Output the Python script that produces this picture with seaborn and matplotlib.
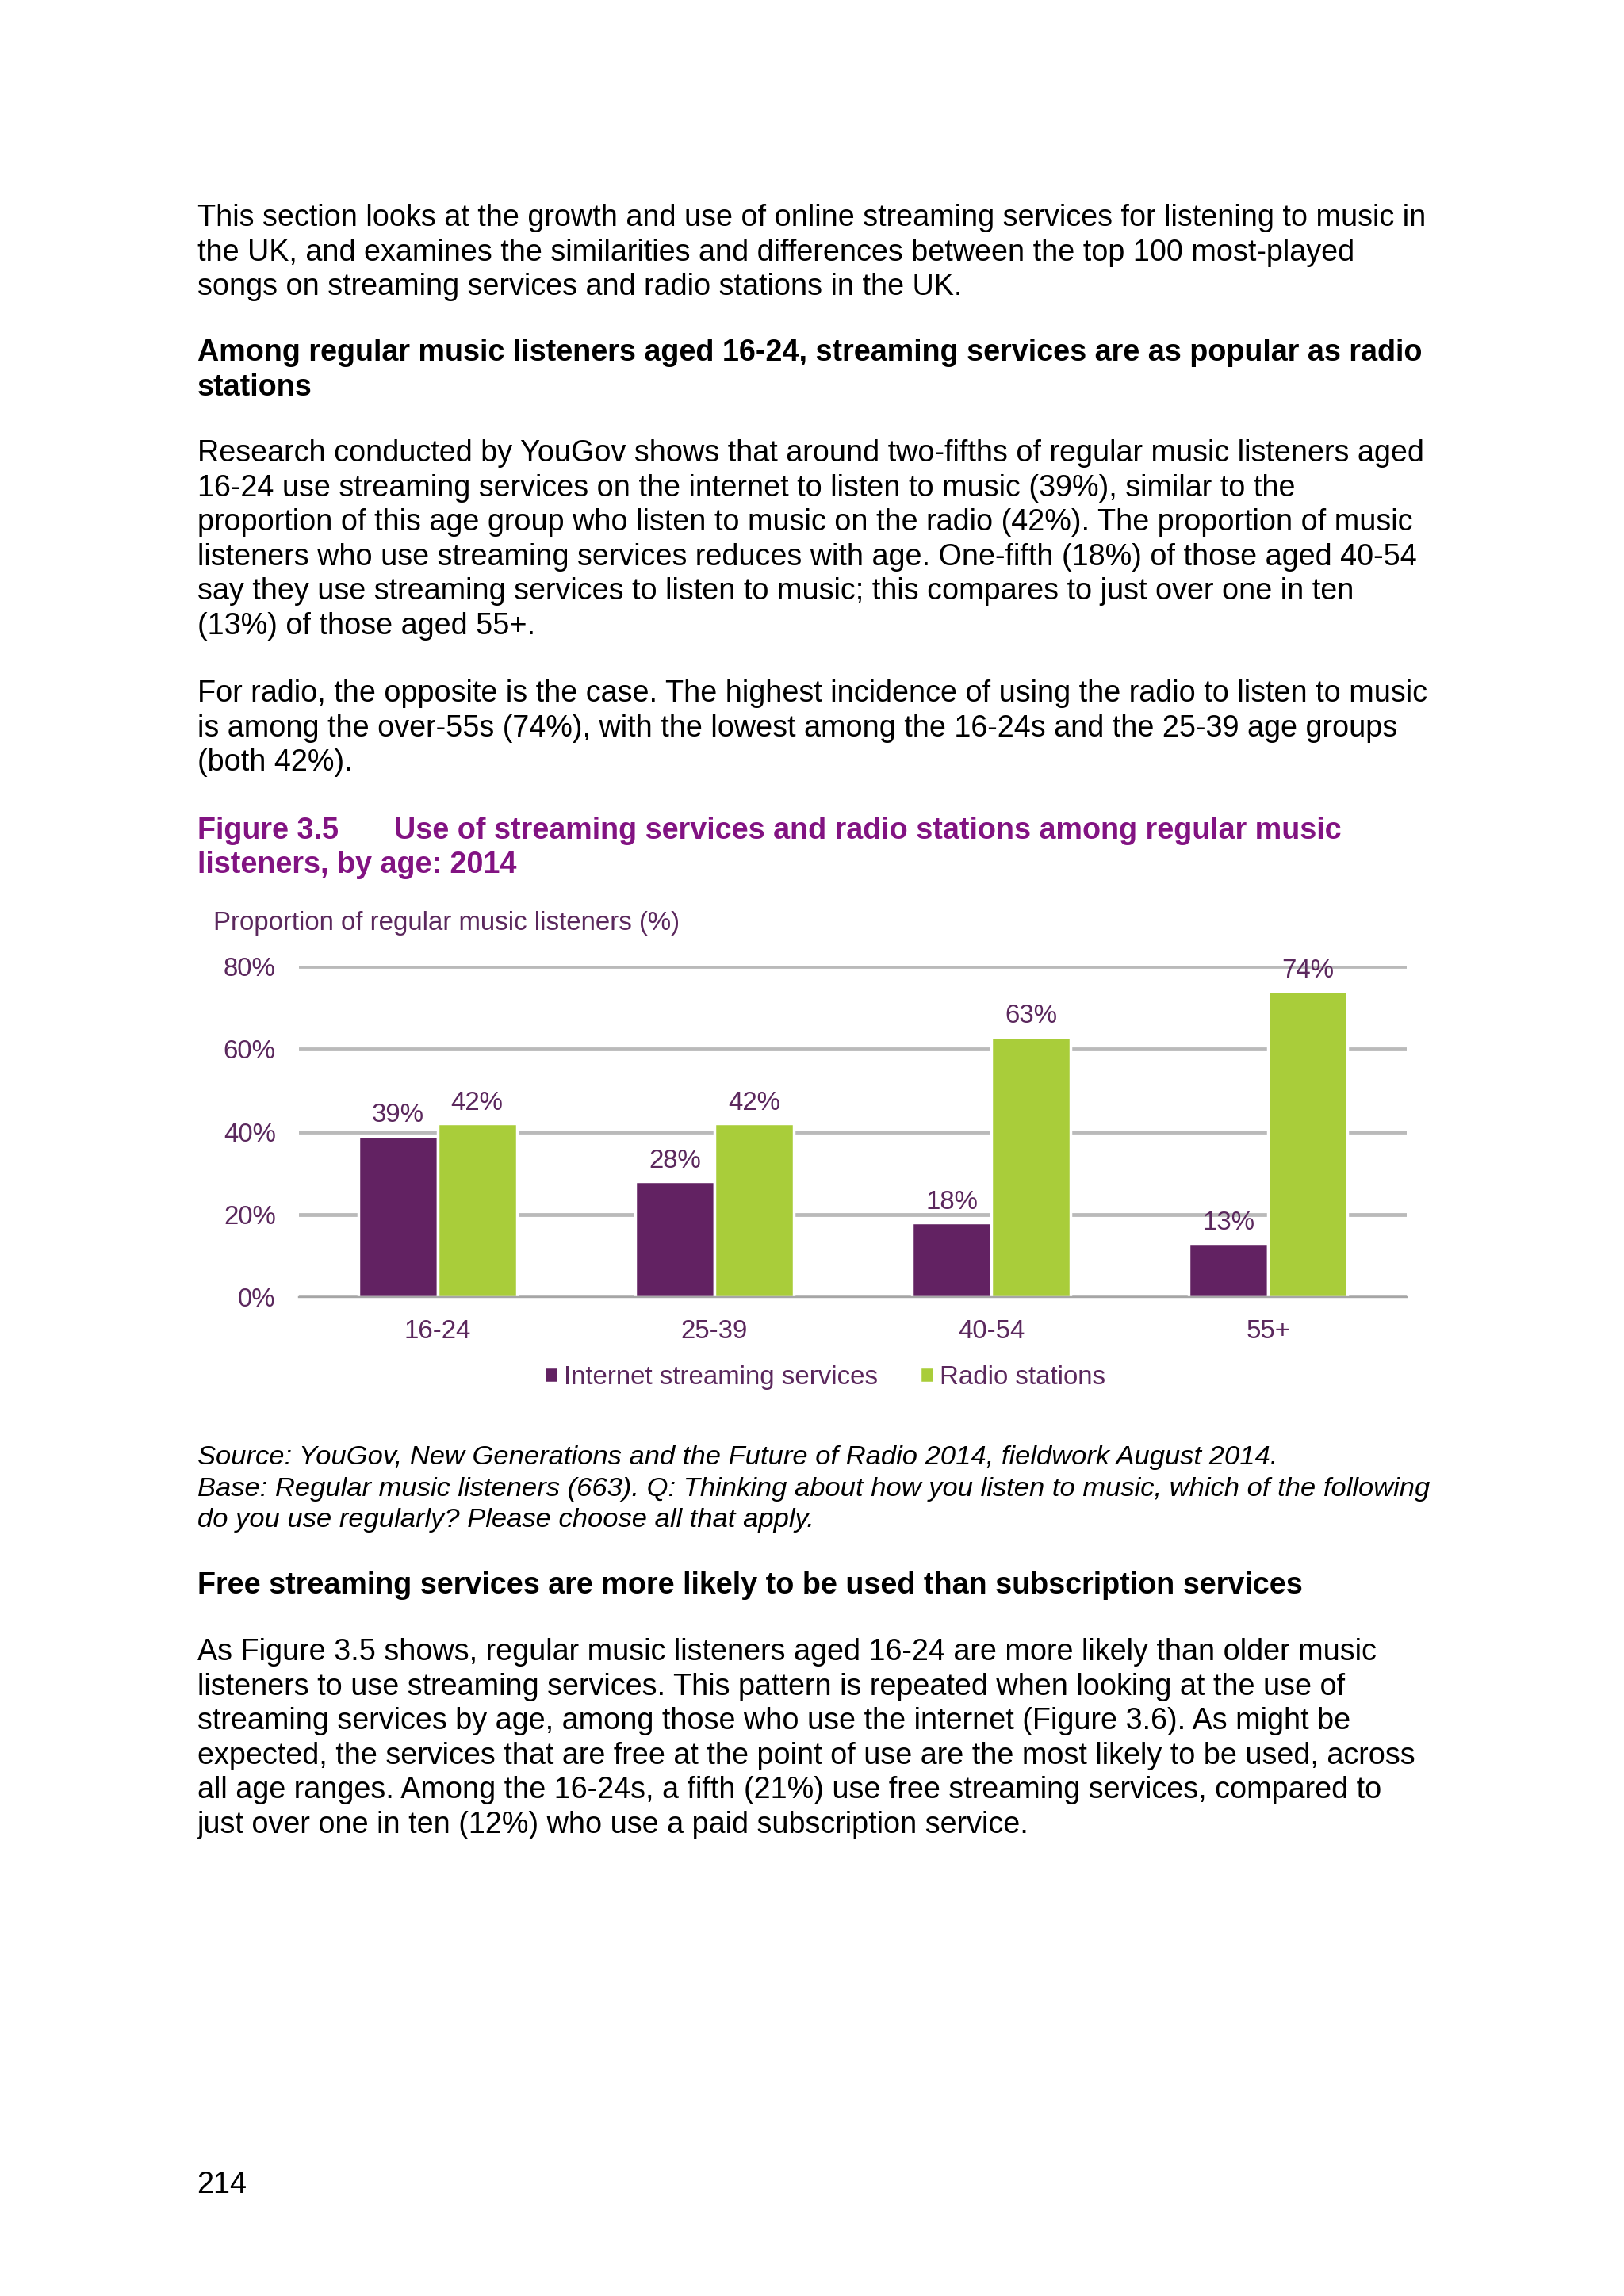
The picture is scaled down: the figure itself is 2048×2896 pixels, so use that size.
import pandas as pd
import matplotlib
matplotlib.use("Agg")
import matplotlib.pyplot as plt
import seaborn as sns

# chart data
ages = ["16-24", "25-39", "40-54", "55+"]
streaming = [39, 28, 18, 13]
radio = [42, 42, 63, 74]
series_names = ["Internet streaming services", "Radio stations"]
y_ticks = [0, 20, 40, 60, 80]

# page text
para1 = [
    "This section looks at the growth and use of online streaming services for listening to music in",
    "the UK, and examines the similarities and differences between the top 100 most-played",
    "songs on streaming services and radio stations in the UK.",
]
head1 = [
    "Among regular music listeners aged 16-24, streaming services are as popular as radio",
    "stations",
]
para2 = [
    "Research conducted by YouGov shows that around two-fifths of regular music listeners aged",
    "16-24 use streaming services on the internet to listen to music (39%), similar to the",
    "proportion of this age group who listen to music on the radio (42%). The proportion of music",
    "listeners who use streaming services reduces with age. One-fifth (18%) of those aged 40-54",
    "say they use streaming services to listen to music; this compares to just over one in ten",
    "(13%) of those aged 55+.",
]
para3 = [
    "For radio, the opposite is the case. The highest incidence of using the radio to listen to music",
    "is among the over-55s (74%), with the lowest among the 16-24s and the 25-39 age groups",
    "(both 42%).",
]
source = [
    "Source: YouGov, New Generations and the Future of Radio 2014, fieldwork August 2014.",
    "Base: Regular music listeners (663). Q: Thinking about how you listen to music, which of the following",
    "do you use regularly? Please choose all that apply.",
]
head2 = ["Free streaming services are more likely to be used than subscription services"]
para4 = [
    "As Figure 3.5 shows, regular music listeners aged 16-24 are more likely than older music",
    "listeners to use streaming services. This pattern is repeated when looking at the use of",
    "streaming services by age, among those who use the internet (Figure 3.6). As might be",
    "expected, the services that are free at the point of use are the most likely to be used, across",
    "all age ranges. Among the 16-24s, a fifth (21%) use free streaming services, compared to",
    "just over one in ten (12%) who use a paid subscription service.",
]

W, H, DPI = 2048, 2896, 248
PURPLE = "#622262"
GREEN = "#a9cd3a"
TXT = "#5b285d"
TITLE = "#821382"
GRID = "#bababa"

sns.set_style("white")
plt.rcParams["font.family"] = ["Liberation Sans", "DejaVu Sans"]
plt.rcParams["text.color"] = "black"

fig = plt.figure(figsize=(W / DPI, H / DPI), dpi=DPI, facecolor="white")


def px(x, y):
    return x / W, 1 - y / H


def block(lines, x, y0, step=43.6, **kw):
    for i, line in enumerate(lines):
        fig.text(*px(x, y0 + i * step), line, va="baseline", ha="left", **kw)


LM = 249
BODY = 10.97
CH = 9.6  # chart text size
block(para1, LM, 285, fontsize=BODY)
block(head1, LM, 455, fontsize=BODY, fontweight="bold")
block(para2, LM, 582, fontsize=BODY)
block(para3, LM, 885, fontsize=BODY)

fig.text(*px(LM, 1058), "Figure 3.5", va="baseline", fontsize=BODY, fontweight="bold", color=TITLE)
fig.text(*px(497, 1058), "Use of streaming services and radio stations among regular music",
         va="baseline", fontsize=BODY, fontweight="bold", color=TITLE)
fig.text(*px(LM, 1101), "listeners, by age: 2014", va="baseline", fontsize=BODY,
         fontweight="bold", color=TITLE)
fig.text(*px(269, 1173), "Proportion of regular music listeners (%)", va="baseline",
         fontsize=CH, color=TXT)

block(source, LM, 1847, step=39.5, fontsize=10.0, fontstyle="italic")
block(head2, LM, 2010, fontsize=BODY, fontweight="bold")
block(para4, LM, 2094, fontsize=BODY)
fig.text(*px(248, 2766), "214", va="baseline", fontsize=BODY)

# chart
df = pd.DataFrame({
    "age": ages * 2,
    "value": streaming + radio,
    "series": [series_names[0]] * len(ages) + [series_names[1]] * len(ages),
})

x0, x1, y_top, y_bot = 377, 1774, 1219, 1636
ax = fig.add_axes([x0 / W, 1 - y_bot / H, (x1 - x0) / W, (y_bot - y_top) / H])
sns.barplot(data=df, x="age", y="value", hue="series", hue_order=series_names,
            palette={series_names[0]: PURPLE, series_names[1]: GREEN},
            width=0.573, saturation=1, ax=ax)

ax.set_ylim(0, 80)
ax.set_xlim(-0.5, len(ages) - 0.5)
ax.set_yticks(y_ticks)
ax.set_yticklabels([f"{t}%" for t in y_ticks])
ax.set_xlabel("")
ax.set_ylabel("")
ax.set_facecolor("none")
ax.set_axisbelow(True)
ax.yaxis.grid(True, color=GRID, linewidth=1.4)
for s in ["top", "right", "left"]:
    ax.spines[s].set_visible(False)
ax.spines["bottom"].set_color("#a6a6a6")
ax.spines["bottom"].set_linewidth(0.7)
ax.tick_params(axis="y", length=0, pad=8.5, labelsize=CH, labelcolor=TXT)
ax.tick_params(axis="x", which="major", length=0, pad=8, labelsize=CH, labelcolor=TXT)
ax.set_xticks([i - 0.5 for i in range(len(ages) + 1)], minor=True)
ax.tick_params(axis="x", which="minor", length=2.9, width=0.7, color="#a6a6a6", direction="out")

for cont in ax.containers:
    ax.bar_label(cont, fmt="%.0f%%", padding=3, color=TXT, fontsize=CH)

handles, labels = ax.get_legend_handles_labels()
ax.get_legend().remove()
fig.legend(handles, labels, loc="center", bbox_to_anchor=px(1040, 1737), ncol=2,
           frameon=False, fontsize=CH, labelcolor=TXT, handlelength=0.55,
           handleheight=0.55, handletextpad=0.2, columnspacing=1.6)

fig.savefig("out.png", dpi=DPI, facecolor="white")
